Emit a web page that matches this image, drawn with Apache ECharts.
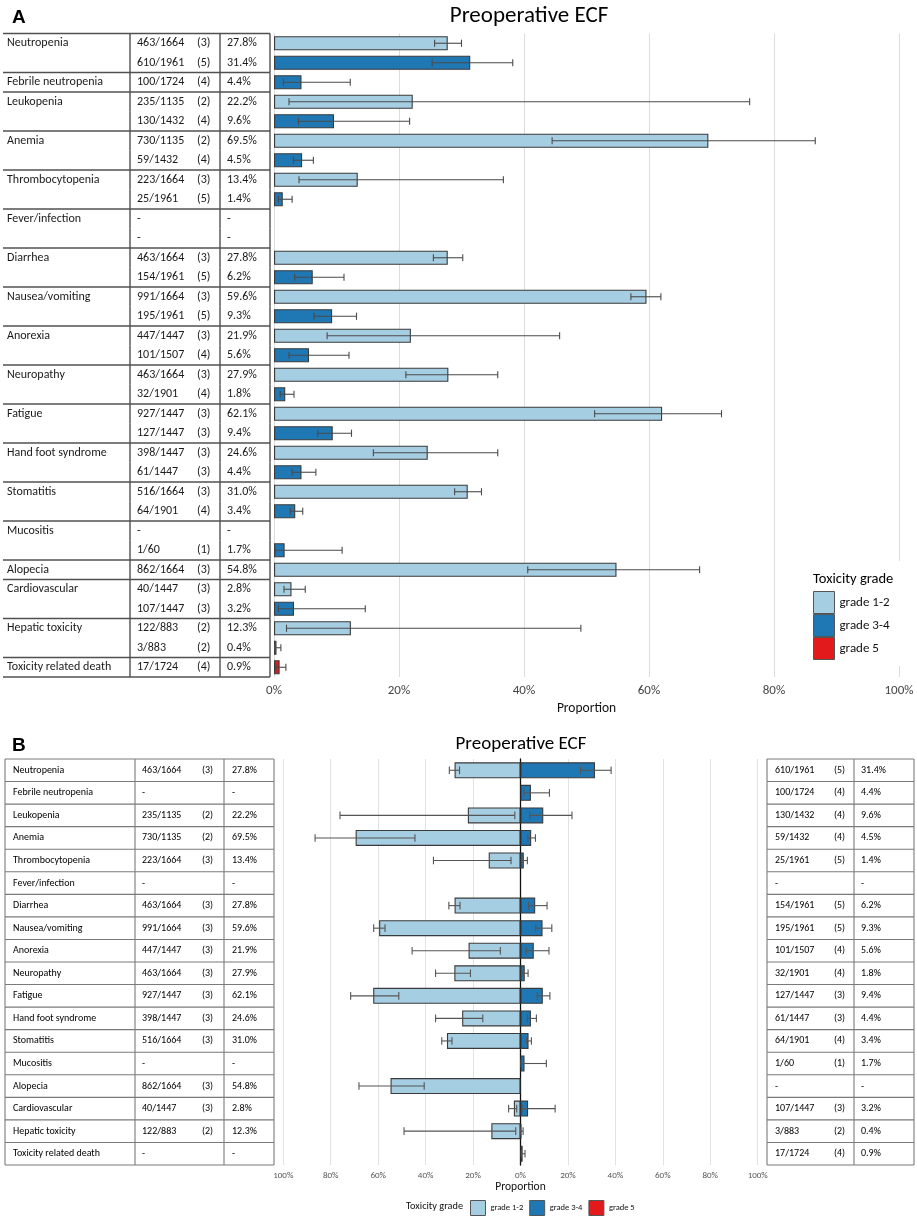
<!DOCTYPE html>
<html><head><meta charset="utf-8">
<script src="https://cdn.jsdelivr.net/npm/echarts/dist/echarts.min.js"></script>
<style>html,body{margin:0;padding:0;background:#fff}#c{width:917px;height:1218px}</style>
</head><body><div id="c"></div>
<script>
// ---------------- DATA ----------------
const toxicities = ['Neutropenia','Febrile neutropenia','Leukopenia','Anemia','Thrombocytopenia','Fever/infection','Diarrhea','Nausea/vomiting','Anorexia','Neuropathy','Fatigue','Hand foot syndrome','Stomatitis','Mucositis','Alopecia','Cardiovascular','Hepatic toxicity','Toxicity related death'];
// grade 1-2
const g12Events  = ['463/1664',null,'235/1135','730/1135','223/1664',null,'463/1664','991/1664','447/1447','463/1664','927/1447','398/1447','516/1664',null,'862/1664','40/1447','122/883',null];
const g12Studies = [3,null,2,2,3,null,3,3,3,3,3,3,3,null,3,3,2,null];
const g12Pct     = [27.8,null,22.2,69.5,13.4,null,27.8,59.6,21.9,27.9,62.1,24.6,31.0,null,54.8,2.8,12.3,null];
const g12Lo      = [25.7,null,2.4,44.5,4.0,null,25.5,57.1,8.5,21.1,51.3,15.9,28.9,null,40.6,1.6,2.0,null];
const g12Hi      = [30.0,null,76.1,86.6,36.7,null,30.2,61.9,45.7,35.8,71.6,35.8,33.2,null,68.1,5.0,49.1,null];
// grade 3-4 (grade 5 for toxicity related death)
const highGrade  = ['3-4','3-4','3-4','3-4','3-4','3-4','3-4','3-4','3-4','3-4','3-4','3-4','3-4','3-4','3-4','3-4','3-4','5'];
const g34Events  = ['610/1961','100/1724','130/1432','59/1432','25/1961',null,'154/1961','195/1961','101/1507','32/1901','127/1447','61/1447','64/1901','1/60',null,'107/1447','3/883','17/1724'];
const g34Studies = [5,4,4,4,5,null,5,5,4,4,3,3,4,1,null,3,2,4];
const g34Pct     = [31.4,4.4,9.6,4.5,1.4,null,6.2,9.3,5.6,1.8,9.4,4.4,3.4,1.7,null,3.2,0.4,0.9];
const g34Lo      = [25.3,1.5,3.9,3.1,0.7,null,3.3,6.4,2.4,1.0,7.0,2.9,2.6,0.2,null,0.7,0.1,0.3];
const g34Hi      = [38.2,12.2,21.7,6.3,2.9,null,11.2,13.2,12.0,3.2,12.4,6.7,4.6,10.9,null,14.6,1.1,1.9];
// rows shown per toxicity in panel A
const panelAGrades = [['g12','g34'],['g34'],['g12','g34'],['g12','g34'],['g12','g34'],['g12','g34'],['g12','g34'],['g12','g34'],['g12','g34'],['g12','g34'],['g12','g34'],['g12','g34'],['g12','g34'],['g12','g34'],['g12'],['g12','g34'],['g12','g34'],['g34']];
const proportionTicks = [0,20,40,60,80,100];
const legendNames = ['grade 1-2','grade 3-4','grade 5'];

// ---------------- STYLE ----------------
const FONT = "Carlito, Lato";
const NAMEFONT = "Carlito, 'Liberation Sans Narrow', Lato";
const C12 = '#a6cee3', C34 = '#1f78b4', C5 = '#e31a1c', EDGE = '#3a3a3a';

const rec = (t, g) => g === 'g12'
  ? {ev: g12Events[t], st: g12Studies[t], p: g12Pct[t], lo: g12Lo[t], hi: g12Hi[t]}
  : {ev: g34Events[t], st: g34Studies[t], p: g34Pct[t], lo: g34Lo[t], hi: g34Hi[t]};
const fEv = v => v == null ? '-' : v;
const fSt = v => v == null ? '' : '(' + v + ')';
const fPct = v => v == null ? '-' : v.toFixed(1) + '%';

// rows panel A
const rowsA = [];
panelAGrades.forEach((gs, t) => gs.forEach((g, k) => rowsA.push({t, g, first: k === 0, last: k === gs.length - 1})));
const rowsB = toxicities.map((_, t) => ({t, first: t === 0, last: true}));

const idxA = rowsA.map((_, i) => String(i));
const idxB = rowsB.map((_, i) => String(i));

const barA12 = rowsA.map(r => r.g === 'g12' && g12Pct[r.t] != null ? g12Pct[r.t] : '-');
const barA34 = rowsA.map(r => r.g === 'g34' && highGrade[r.t] === '3-4' && g34Pct[r.t] != null ? g34Pct[r.t] : '-');
const barA5  = rowsA.map(r => r.g === 'g34' && highGrade[r.t] === '5' ? g34Pct[r.t] : '-');
const errA = rowsA.map((r, i) => { const d = rec(r.t, r.g); return d.lo == null ? null : [i, d.lo, d.hi]; }).filter(Boolean);

const barB12 = toxicities.map((_, t) => g12Pct[t] == null ? '-' : -g12Pct[t]);
const barB34 = toxicities.map((_, t) => highGrade[t] === '3-4' && g34Pct[t] != null ? g34Pct[t] : '-');
const barB5  = toxicities.map((_, t) => highGrade[t] === '5' ? g34Pct[t] : '-');
const errB = [];
toxicities.forEach((_, t) => {
  if (g12Lo[t] != null) errB.push([t, -g12Lo[t], -g12Hi[t]]);
  if (g34Lo[t] != null) errB.push([t, g34Lo[t], g34Hi[t]]);
});

// ---------------- RENDERERS ----------------
function errRenderer(cap, color) {
  return function (params, api) {
    const i = api.value(0);
    const a = api.coord([api.value(1), i]);
    const b = api.coord([api.value(2), i]);
    const st = {stroke: color, lineWidth: 1.1};
    return {type: 'group', children: [
      {type: 'line', shape: {x1: a[0], y1: a[1], x2: b[0], y2: b[1]}, style: st},
      {type: 'line', shape: {x1: a[0], y1: a[1] - cap, x2: a[0], y2: a[1] + cap}, style: st},
      {type: 'line', shape: {x1: b[0], y1: b[1] - cap, x2: b[0], y2: b[1] + cap}, style: st}
    ]};
  };
}

function tableRenderer(rows, cfg) {
  return function (params, api) {
    const i = api.value(1);
    const c = api.coord([0, i]);
    const bh = api.size([0, 1])[1];
    const cs = params.coordSys;
    const L = cs.x, R = cs.x + cs.width;
    const yT = c[1] - bh / 2, yB = c[1] + bh / 2;
    const texts = cfg.texts(rows[i]);
    const ch = [];
    texts.forEach((tx, k) => {
      if (tx === '' || tx == null) return;
      ch.push({type: 'text', style: {text: tx, x: L + cfg.cols[k], y: c[1] + (cfg.dy || 0), fill: cfg.textColor,
        fontSize: cfg.fontSize, fontFamily: (k === 0 && cfg.nameCol) ? NAMEFONT : FONT, align: 'left', verticalAlign: 'middle'}});
    });
    const ls = {stroke: cfg.lineColor, lineWidth: cfg.lineWidth};
    cfg.vlines.forEach(dx => ch.push({type: 'line', shape: {x1: L + dx, y1: yT, x2: L + dx, y2: yB}, style: ls}));
    if (rows[i].first && i === 0) ch.push({type: 'line', shape: {x1: L, y1: yT, x2: R, y2: yT}, style: ls});
    if (rows[i].last) ch.push({type: 'line', shape: {x1: L, y1: yB, x2: R, y2: yB}, style: ls});
    return {type: 'group', children: ch};
  };
}

// ---------------- LAYOUT ----------------
const topA = 33.5, hA = 643.5;
const topB = 759, hB = 406;

const hiddenX = g => ({gridIndex: g, type: 'value', min: 0, max: 1, show: false});
const hiddenY = (g, d) => ({gridIndex: g, type: 'category', data: d, inverse: true, show: false});

const barStyle = c => ({color: c, borderColor: EDGE, borderWidth: 1.1});

const option = {
  backgroundColor: '#fff',
  animation: false,
  title: [
    {text: 'A', left: 7, top: 3, textStyle: {fontFamily: 'Liberation Sans', fontSize: 19, fontWeight: 'bold', color: '#000'}},
    {text: 'Preoperative ECF', left: 524, top: 0, textAlign: 'center', textStyle: {fontFamily: FONT, fontSize: 23, fontWeight: 'normal', color: '#000'}},
    {text: 'Toxicity grade', left: 808, top: 567, textStyle: {fontFamily: FONT, fontSize: 14.5, fontWeight: 'normal', color: '#000'}},
    {text: 'B', left: 7, top: 731, textStyle: {fontFamily: 'Liberation Sans', fontSize: 19, fontWeight: 'bold', color: '#000'}},
    {text: 'Preoperative ECF', left: 516, top: 730, textAlign: 'center', textStyle: {fontFamily: FONT, fontSize: 19, fontWeight: 'normal', color: '#000'}},
    {text: 'Toxicity grade', left: 401, top: 1196, textStyle: {fontFamily: FONT, fontSize: 10.3, fontWeight: 'normal', color: '#111'}}
  ],
  legend: [
    {data: legendNames, orient: 'vertical', left: 795, top: 561, padding: [30, 14, 6, 18], itemGap: 0, icon: 'rect',
     itemWidth: 21, itemHeight: 22, backgroundColor: '#fff', selectedMode: false,
     itemStyle: {borderWidth: 1, borderColor: '#555'},
     textStyle: {fontFamily: FONT, fontSize: 13, color: '#111'}},
    {data: legendNames, orient: 'horizontal', left: 465, top: 1195, itemGap: 6, itemWidth: 15, itemHeight: 15, icon: 'rect',
     selectedMode: false, itemStyle: {borderWidth: 1, borderColor: '#555'},
     textStyle: {fontFamily: FONT, fontSize: 8.5, color: '#111'}}
  ],
  grid: [
    {left: 3, top: topA, width: 267, height: hA},
    {left: 274, top: topA, width: 625, height: hA},
    {left: 5, top: topB, width: 269, height: hB},
    {left: 283.3, top: topB, width: 474.4, height: hB},
    {left: 767, top: topB, width: 147, height: hB}
  ],
  xAxis: [
    hiddenX(0),
    {gridIndex: 1, type: 'value', min: proportionTicks[0], max: proportionTicks[proportionTicks.length - 1], interval: 20,
     axisLine: {show: false}, axisTick: {show: false},
     axisLabel: {formatter: '{value}%', fontFamily: FONT, fontSize: 13, color: '#444', margin: 7},
     splitLine: {lineStyle: {color: '#dcdcdc', width: 1}},
     name: 'Proportion', nameLocation: 'middle', nameGap: 22, nameTextStyle: {fontFamily: FONT, fontSize: 13.5, color: '#111'}},
    hiddenX(2),
    {gridIndex: 3, type: 'value', min: -100, max: 100, interval: 20,
     axisLine: {show: false}, axisTick: {show: false},
     axisLabel: {formatter: v => Math.abs(v) + '%', fontFamily: FONT, fontSize: 9, color: '#555', margin: 6},
     splitLine: {lineStyle: {color: '#e2e2e2', width: 1}},
     name: 'Proportion', nameLocation: 'middle', nameGap: 14, nameTextStyle: {fontFamily: FONT, fontSize: 11.5, color: '#111'}},
    hiddenX(4)
  ],
  yAxis: [
    hiddenY(0, idxA),
    hiddenY(1, idxA),
    hiddenY(2, idxB),
    {gridIndex: 3, type: 'category', data: idxB, inverse: true,
     axisLine: {show: true, onZero: true, lineStyle: {color: '#111', width: 1.3}},
     axisTick: {show: false}, axisLabel: {show: false}, splitLine: {show: false}},
    hiddenY(4, idxB)
  ],
  series: [
    // panel A
    {name: 'grade 1-2', type: 'bar', xAxisIndex: 1, yAxisIndex: 1, data: barA12, barWidth: 14, barGap: '-100%', itemStyle: barStyle(C12)},
    {name: 'grade 3-4', type: 'bar', xAxisIndex: 1, yAxisIndex: 1, data: barA34, barWidth: 14, barGap: '-100%', itemStyle: barStyle(C34)},
    {name: 'grade 5', type: 'bar', xAxisIndex: 1, yAxisIndex: 1, data: barA5, barWidth: 14, barGap: '-100%', itemStyle: barStyle(C5)},
    {type: 'custom', xAxisIndex: 1, yAxisIndex: 1, data: errA, encode: {x: [1, 2], y: 0}, renderItem: errRenderer(3.6, '#4a4a4a'), z: 5, silent: true},
    {type: 'custom', xAxisIndex: 0, yAxisIndex: 0, data: rowsA.map((_, i) => [0, i]), encode: {x: 0, y: 1}, silent: true,
     renderItem: tableRenderer(rowsA, {
       cols: [4, 134, 194, 224], vlines: [127, 217, 267], fontSize: 12, lineColor: '#505050', lineWidth: 1.4, nameCol: true, textColor: '#1a1a1a',
       texts: r => { const d = rec(r.t, r.g); return [r.first ? toxicities[r.t] : '', fEv(d.ev), fSt(d.st), fPct(d.p)]; }
     })},
    // panel B
    {name: 'grade 1-2', type: 'bar', xAxisIndex: 3, yAxisIndex: 3, data: barB12, barWidth: 16, barGap: '-100%', itemStyle: barStyle(C12)},
    {name: 'grade 3-4', type: 'bar', xAxisIndex: 3, yAxisIndex: 3, data: barB34, barWidth: 16, barGap: '-100%', itemStyle: barStyle(C34)},
    {name: 'grade 5', type: 'bar', xAxisIndex: 3, yAxisIndex: 3, data: barB5, barWidth: 16, barGap: '-100%', itemStyle: barStyle(C5)},
    {type: 'custom', xAxisIndex: 3, yAxisIndex: 3, data: errB, encode: {x: [1, 2], y: 0}, renderItem: errRenderer(3.8, '#555'), z: 5, silent: true},
    {type: 'custom', xAxisIndex: 2, yAxisIndex: 2, data: rowsB.map((_, i) => [0, i]), encode: {x: 0, y: 1}, silent: true,
     renderItem: tableRenderer(rowsB, {
       cols: [8, 137, 197, 227], vlines: [0, 130, 219, 269], fontSize: 10, lineColor: '#7a7a7a', lineWidth: 1.1, nameCol: true, textColor: '#000',
       texts: r => [toxicities[r.t], fEv(g12Events[r.t]), fSt(g12Studies[r.t]), fPct(g12Pct[r.t])]
     })},
    {type: 'custom', xAxisIndex: 4, yAxisIndex: 4, data: rowsB.map((_, i) => [0, i]), encode: {x: 0, y: 1}, silent: true,
     renderItem: tableRenderer(rowsB, {
       cols: [8, 67, 94], vlines: [0, 87, 147], fontSize: 10, lineColor: '#7a7a7a', lineWidth: 1.1, textColor: '#000',
       texts: r => [fEv(g34Events[r.t]), fSt(g34Studies[r.t]), fPct(g34Pct[r.t])]
     })}
  ]
};

const chart = echarts.init(document.getElementById('c'), null, {renderer: 'canvas', width: 917, height: 1218});
chart.setOption(option);
</script></body></html>
